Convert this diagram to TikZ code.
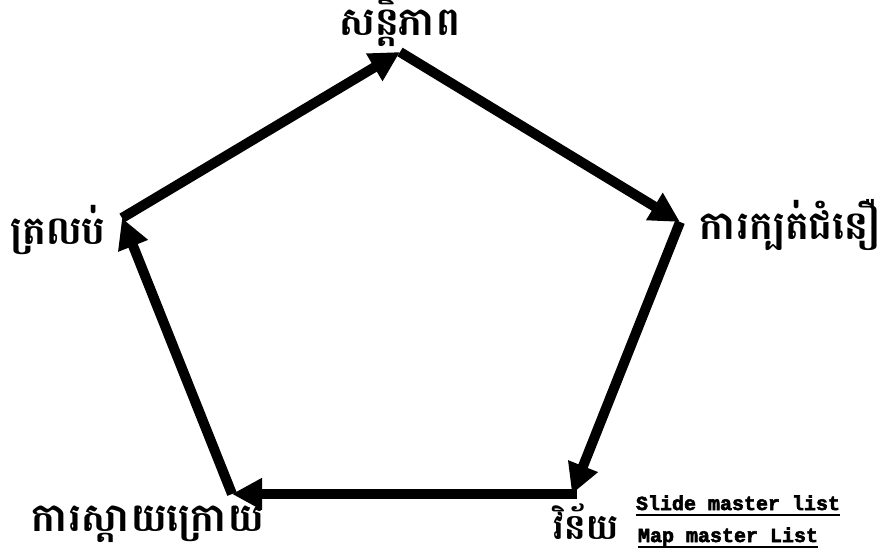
\documentclass[tikz,border=0pt]{standalone}
\usepackage{fontspec}
\usetikzlibrary{arrows.meta}
\newfontfamily\khmerfont[Script=Khmer,BoldFont={Battambang Bold}]{Battambang}
\newfontfamily\monob[FakeBold=3]{Liberation Mono Bold}
\begin{document}
\begin{tikzpicture}[x=1pt,y=1pt,
  edge/.style={line width=10pt,-{Triangle[length=30pt,width=30pt]}},
  klabel/.style={font=\khmerfont\bfseries\fontsize{40}{44}\selectfont,inner sep=0pt},
  mlabel/.style={font=\monob\fontsize{20}{22}\selectfont,inner sep=0pt},
  uline/.style={line width=2pt}]
\useasboundingbox (0,0) rectangle (883,555);
\coordinate (T) at (400,503);
\coordinate (R) at (680,333);
\coordinate (BR) at (572,61);
\coordinate (BL) at (232,61);
\coordinate (L) at (122,337);
\draw[edge] (L) -- (T);
\draw[edge] (T) -- (R);
\draw[edge] (R) -- (BR);
\draw[edge,shorten <=-5pt] (BR) -- (BL);
\draw[edge] (BL) -- (L);
\node[klabel] (tl) at (400,533) {សន្តិភាព};
\node[klabel] (rl) at (790,330) {ការក្បត់ជំនឿ};
\node[klabel] (ll) at (58,325) {ត្រលប់};
\node[klabel] (bll) at (148,31) {ការស្តាយក្រោយ};
\node[klabel,font=\khmerfont\bfseries\fontsize{36}{40}\selectfont] (brl) at (586,33) {វិន័យ};
\node[mlabel,anchor=base] (s1) at (738,45) {Slide master list};
\node[mlabel,anchor=base] (s2) at (728,13) {Map master List};
\draw[uline] ([yshift=-5pt]s1.base west) -- ([yshift=-5pt]s1.base east);
\draw[uline] ([yshift=-5pt]s2.base west) -- ([yshift=-5pt]s2.base east);
\end{tikzpicture}
\end{document}
